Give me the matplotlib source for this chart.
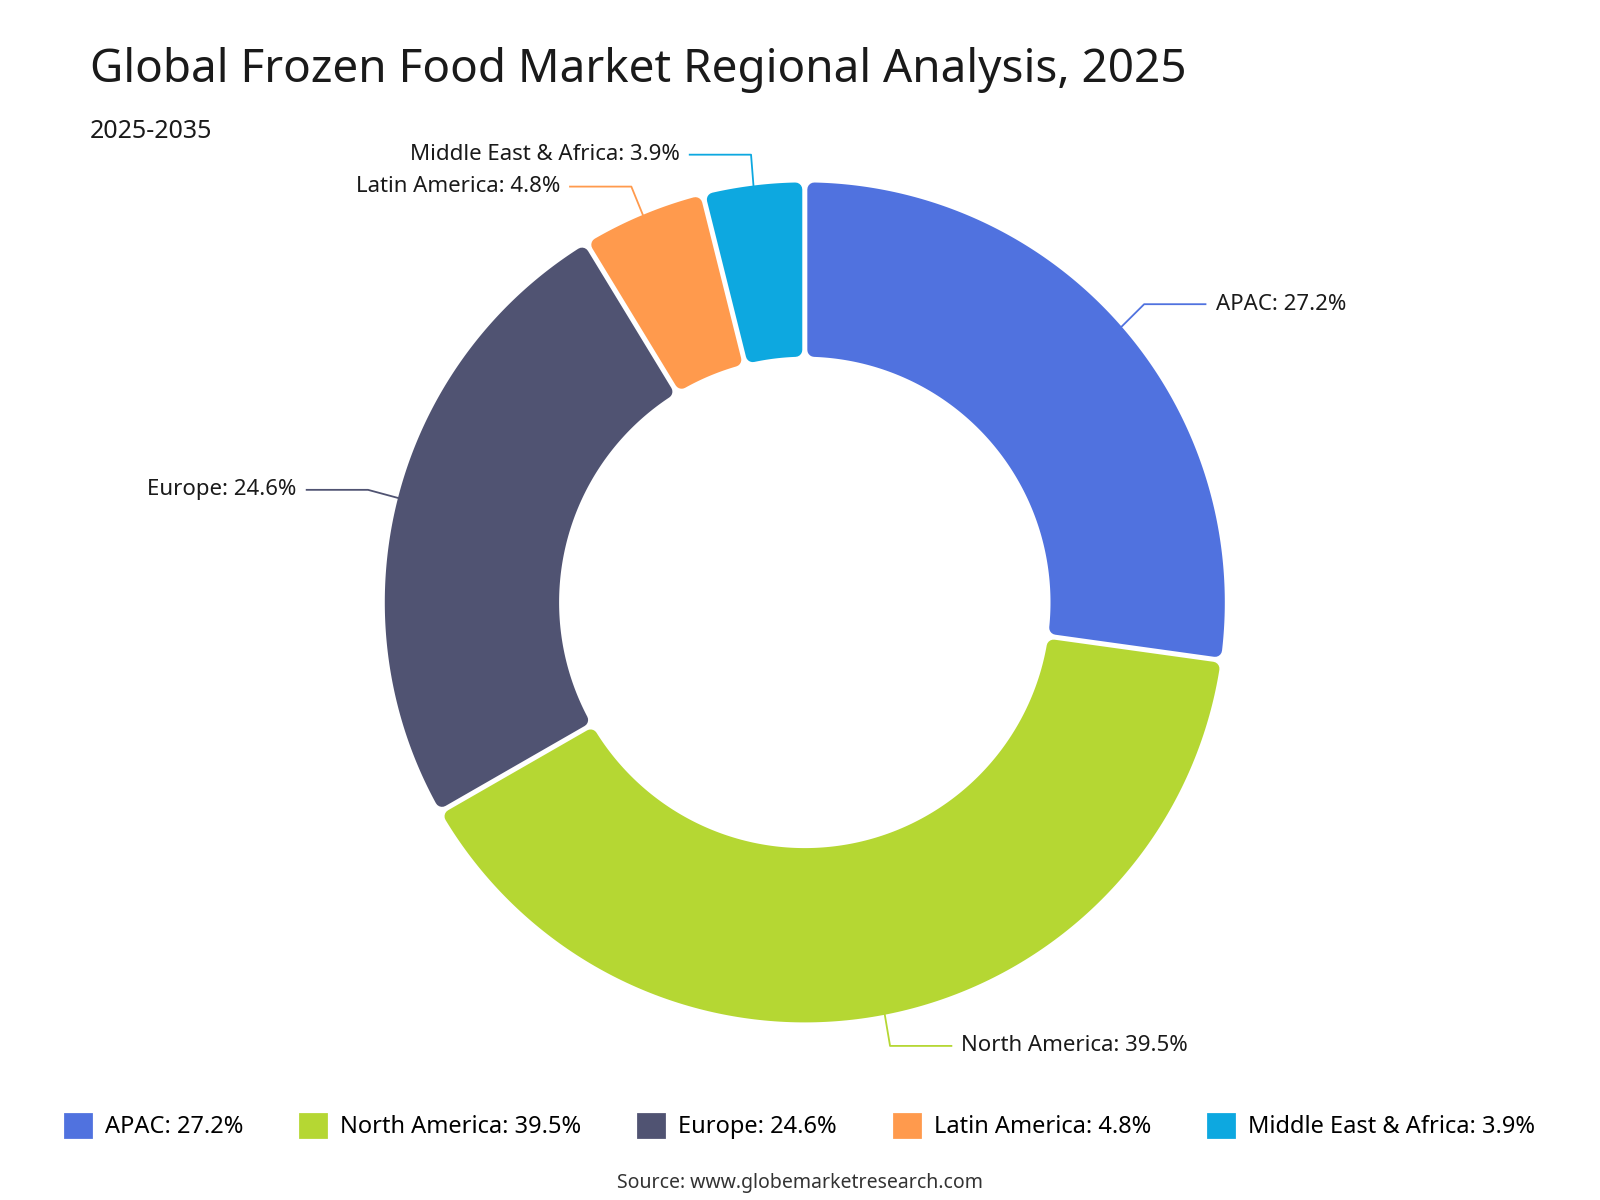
import numpy as np
import matplotlib
matplotlib.use("Agg")
import matplotlib.pyplot as plt
from matplotlib.patches import Polygon, FancyBboxPatch
from matplotlib.lines import Line2D

plt.rcParams['font.family'] = ['Noto Sans', 'DejaVu Sans']

categories = ["APAC", "North America", "Europe", "Latin America", "Middle East & Africa"]
values = [27.2, 39.5, 24.6, 4.8, 3.9]
colors = ["#5072DF", "#B5D733", "#505372", "#FF9A4D", "#0DA8E0"]
# label text anchor (data coords) and elbow points
label_pos = [(0.978, 0.71, 'left'), (0.373, -1.056, 'left'), (-1.21, 0.268, 'right'),
             (-0.583, 0.99, 'right'), (-0.298, 1.066, 'right')]

fig = plt.figure(figsize=(16, 12), dpi=100)
cx, cy, h = 0.503, 0.498, 0.70
w = h * 12 / 16
ax = fig.add_axes([cx - w / 2, cy - h / 2, w, h])
ax.set_xlim(-1, 1); ax.set_ylim(-1, 1); ax.set_aspect('equal'); ax.axis('off')

R_out, R_in = 1.0, 0.585
lw_pt = 10
pad = lw_pt / 72 * 100 / 2 / 420  # half linewidth in data units
gap = pad + 0.006
ro, ri = R_out - pad, R_in + pad

start = 90.0
total = sum(values)
for i, (v, c) in enumerate(zip(values, colors)):
    a1 = np.radians(start)
    a2 = np.radians(start - v / total * 360)
    do, di = gap / ro, gap / ri
    to = np.linspace(a1 - do, a2 + do, 200)
    ti = np.linspace(a2 + di, a1 - di, 200)
    pts = np.concatenate([np.c_[ro * np.cos(to), ro * np.sin(to)],
                          np.c_[ri * np.cos(ti), ri * np.sin(ti)]])
    ax.add_patch(Polygon(pts, closed=True, facecolor=c, edgecolor=c, lw=lw_pt,
                         joinstyle='round', clip_on=False))
    mid = np.radians(start - v / total * 180)
    p0 = (R_out * np.cos(mid), R_out * np.sin(mid))
    lx, ly, ha = label_pos[i]
    sgn = 1 if ha == 'left' else -1
    elbow_x = lx - sgn * 0.17
    end_x = lx - sgn * 0.024
    ax.add_line(Line2D([p0[0], elbow_x, end_x], [p0[1], ly, ly], color=c, lw=1.3, clip_on=False))
    ax.text(lx, ly, f"{categories[i]}: {v}%", ha=ha, va='center', fontsize=16,
            fontweight='bold', color='#1a1a1a', clip_on=False)
    start -= v / total * 360

fig.text(0.056, 0.942, "Global Frozen Food Market Regional Analysis, 2025", fontsize=33,
         fontweight='bold', color='#1a1a1a', va='center')
fig.text(0.056, 0.89, "2025-2035", fontsize=18, color='#1a1a1a', va='center')

handles = [plt.Rectangle((0, 0), 1, 1, facecolor=c, edgecolor=c, joinstyle='round', lw=2) for c in colors]
fig.legend(handles, [f"{c}: {v}%" for c, v in zip(categories, values)], loc='center',
           bbox_to_anchor=(0.5, 0.061), ncol=5, frameon=False, handlelength=1.1, handleheight=1.1,
           columnspacing=2.4, handletextpad=0.6, prop={'size': 17, 'weight': 'bold'})
fig.text(0.5, 0.014, "Source: www.globemarketresearch.com", ha='center', va='center',
         fontsize=14, fontweight='bold', color='#333333')
fig.savefig("out.png", dpi=100, facecolor='white')
